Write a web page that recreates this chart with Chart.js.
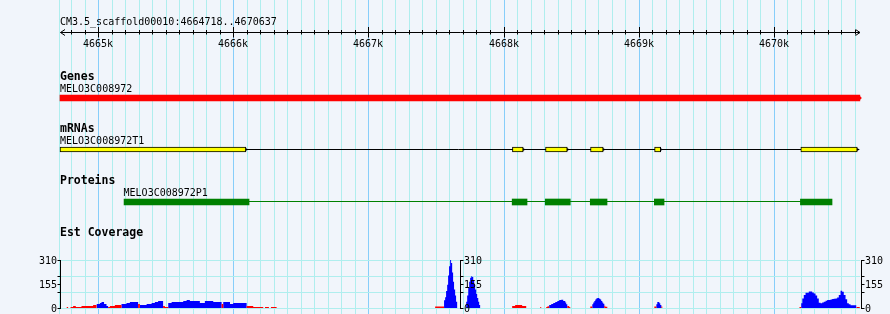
<!DOCTYPE html>
<html>
<head>
<meta charset="utf-8">
<title>MELO3C008972</title>
<script src="https://cdn.jsdelivr.net/npm/chart.js@4.4.1/dist/chart.umd.min.js"></script>
<style>
    html, body { margin: 0; padding: 0; background: #f1f5fb; }
    canvas { display: block; }
</style>
</head>
<body>
<canvas id="browser" width="890" height="314"></canvas>
<script>
const refName = 'CM3.5_scaffold00010';
const viewStart = 4664718;
const viewEnd = 4670637;

const rulerTicks = [4665000, 4666000, 4667000, 4668000, 4669000, 4670000];
const rulerLabels = ['4665k', '4666k', '4667k', '4668k', '4669k', '4670k'];

const trackTitles = ['Genes', 'mRNAs', 'Proteins', 'Est Coverage'];

const geneName = 'MELO3C008972';
const geneSpan = [4664718, 4670637];

const mrnaName = 'MELO3C008972T1';
const mrnaExons = [
    [4664718, 4666094], [4668066, 4668146], [4668311, 4668472],
    [4668644, 4668738], [4669118, 4669163], [4670200, 4670618]
];

const proteinName = 'MELO3C008972P1';
const proteinParts = [
    [4665192, 4666117], [4668064, 4668174], [4668309, 4668494],
    [4668642, 4668766], [4669116, 4669188], [4670197, 4670431]
];

const covTicks = [0, 155, 310];
const covTickLabels = ['0', '155', '310'];
const covMinorTicks = [103.3, 206.7];

// est coverage, [position, depth] steps
const estBlue = [
    [4664988, 26], [4665013, 32], [4665025, 38], [4665044, 26], [4665062, 13], [4665074, 0],
    [4665173, 26], [4665210, 32], [4665235, 38], [4665296, 0],
    [4665309, 19], [4665359, 26], [4665396, 32], [4665420, 38], [4665444, 45], [4665481, 0],
    [4665519, 32], [4665544, 38], [4665630, 45], [4665655, 51], [4665679, 45], [4665753, 32],
    [4665790, 45], [4665852, 38], [4665914, 0],
    [4665926, 38], [4665976, 26], [4666000, 32], [4666099, 0],
    [4667560, 50], [4667568, 70], [4667575, 110], [4667583, 150], [4667590, 210], [4667597, 270],
    [4667605, 310], [4667612, 290], [4667620, 230], [4667627, 170], [4667634, 120], [4667642, 80],
    [4667649, 40], [4667657, 0],
    [4667724, 40], [4667731, 80], [4667739, 130], [4667746, 170], [4667753, 195], [4667761, 205],
    [4667768, 200], [4667776, 180], [4667783, 150], [4667790, 120], [4667798, 90], [4667805, 65],
    [4667813, 40], [4667820, 20], [4667827, 0],
    [4668338, 20], [4668353, 26], [4668368, 32], [4668383, 38], [4668398, 45], [4668412, 51],
    [4668427, 53], [4668442, 45], [4668457, 35], [4668464, 25], [4668472, 0],
    [4668657, 25], [4668664, 35], [4668672, 45], [4668679, 55], [4668686, 62], [4668694, 64],
    [4668708, 60], [4668716, 55], [4668723, 45], [4668731, 35], [4668738, 28], [4668746, 0],
    [4669131, 25], [4669138, 38], [4669153, 30], [4669160, 20], [4669168, 0],
    [4670203, 30], [4670211, 62], [4670222, 84], [4670235, 98], [4670259, 107], [4670284, 100],
    [4670296, 94], [4670309, 80], [4670321, 62], [4670333, 34], [4670346, 30], [4670358, 36],
    [4670370, 41], [4670383, 47], [4670395, 51], [4670420, 55], [4670432, 58], [4670444, 60],
    [4670457, 62], [4670469, 68], [4670481, 84], [4670494, 111], [4670506, 105], [4670518, 84],
    [4670531, 56], [4670543, 30], [4670555, 24], [4670568, 17], [4670612, 0]
];

const estRed = [
    [4664766, 6], [4664778, 0], [4664796, 6], [4664815, 13], [4664835, 6], [4664877, 13],
    [4664963, 19], [4664988, 0],
    [4665074, 6], [4665087, 13], [4665124, 19], [4665173, 0],
    [4665296, 26], [4665309, 0],
    [4665481, 13], [4665494, 6], [4665519, 0],
    [4665914, 26], [4665926, 0],
    [4666099, 13], [4666148, 6], [4666222, 0], [4666235, 6], [4666264, 0], [4666279, 6], [4666321, 0],
    [4667494, 10], [4667560, 0],
    [4668064, 13], [4668086, 19], [4668138, 13], [4668168, 0],
    [4668272, 6], [4668279, 0],
    [4668316, 6], [4668323, 10], [4668331, 12], [4668338, 0],
    [4668472, 13], [4668486, 6], [4668494, 0],
    [4668642, 10], [4668657, 0],
    [4668746, 15], [4668753, 8], [4668768, 0],
    [4669116, 10], [4669131, 0],
    [4669168, 10], [4669175, 0],
    [4670190, 6], [4670203, 0],
    [4670612, 6], [4670637, 0]
];

const W = 890, H = 314;
const panelLeft = 60, panelRight = 860;
const rulerY = 32.5;
const geneRow = 98, mrnaRow = 149.5, proteinRow = 202, proteinLineRow = 201.5;
const titleY = [80, 132, 184, 236];
const nameY = [92, 144, 196];
const covTop = 260, covBottom = 308, covMax = 310;
const covAxisX = [60.5, 460.5, 861.5];

const smallFont = '10px "DejaVu Sans Mono"';
const boldFont = 'bold 11.5px "DejaVu Sans Mono"';
const gridMinor = '#afeeee';
const gridMajor = '#87cefa';

const bpPerPx = (viewEnd - viewStart + 1) / (panelRight - panelLeft);
const xMin = viewStart - panelLeft * bpPerPx;
const xMax = xMin + W * bpPerPx;
const covPerPx = covMax / (covBottom - covTop);
const covScaleMin = -(H - covBottom) * covPerPx;
const covScaleMax = covMax + covTop * covPerPx;

function line(ctx, x1, y1, x2, y2) {
    ctx.beginPath();
    ctx.moveTo(x1, y1);
    ctx.lineTo(x2, y2);
    ctx.stroke();
}

const browserPlugin = {
    id: 'browser',
    beforeDraw(chart) {
        const ctx = chart.ctx;
        ctx.save();
        ctx.fillStyle = '#f1f5fb';
        ctx.fillRect(0, 0, W, H);
        ctx.restore();
    },
    beforeDatasetsDraw(chart) {
        const ctx = chart.ctx;
        const xs = chart.scales.x;
        const cs = chart.scales.cov;
        ctx.save();
        ctx.lineWidth = 1;
        ctx.strokeStyle = gridMinor;
        line(ctx, panelLeft - 0.5, 0, panelLeft - 0.5, H);
        for (let bp = Math.ceil(viewStart / 100) * 100; bp <= viewEnd; bp += 100) {
            const x = Math.round(xs.getPixelForValue(bp)) + 0.5;
            ctx.strokeStyle = bp % 1000 === 0 ? gridMajor : gridMinor;
            line(ctx, x, 0, x, H);
        }
        ctx.strokeStyle = gridMinor;
        [0, ...covMinorTicks, covMax].forEach(v => {
            const y = Math.round(cs.getPixelForValue(v)) + 0.5;
            line(ctx, panelLeft, y, panelRight, y);
        });
        ctx.restore();
    },
    afterDatasetsDraw(chart) {
        const ctx = chart.ctx;
        const xs = chart.scales.x;
        const cs = chart.scales.cov;
        ctx.save();
        ctx.lineWidth = 1;
        ctx.strokeStyle = '#000';
        ctx.fillStyle = '#000';

        // ruler
        ctx.font = smallFont;
        ctx.textAlign = 'left';
        ctx.fillText(refName + ':' + viewStart + '..' + viewEnd, panelLeft, 25);
        line(ctx, panelLeft + 0.5, rulerY, panelRight, rulerY);
        ctx.beginPath();
        ctx.moveTo(panelLeft + 5, rulerY - 3);
        ctx.lineTo(panelLeft + 0.5, rulerY);
        ctx.lineTo(panelLeft + 5, rulerY + 3);
        ctx.moveTo(panelRight - 4.5, rulerY - 3);
        ctx.lineTo(panelRight, rulerY);
        ctx.lineTo(panelRight - 4.5, rulerY + 3);
        ctx.stroke();
        for (let bp = Math.ceil(viewStart / 100) * 100; bp <= viewEnd; bp += 100) {
            const x = Math.round(xs.getPixelForValue(bp)) + 0.5;
            if (bp % 1000 === 0) {
                line(ctx, x, rulerY - 5.5, x, rulerY + 5);
            } else {
                line(ctx, x, rulerY - 2.5, x, rulerY + 2);
            }
        }
        ctx.textAlign = 'center';
        rulerTicks.forEach((bp, i) => {
            ctx.fillText(rulerLabels[i], Math.round(xs.getPixelForValue(bp)), 47);
        });

        // track titles and feature names
        ctx.textAlign = 'left';
        ctx.font = boldFont;
        trackTitles.forEach((t, i) => ctx.fillText(t, panelLeft, titleY[i]));
        ctx.font = smallFont;
        ctx.fillText(geneName, xs.getPixelForValue(geneSpan[0]), nameY[0]);
        ctx.fillText(mrnaName, xs.getPixelForValue(mrnaExons[0][0]), nameY[1]);
        ctx.fillText(proteinName, xs.getPixelForValue(proteinParts[0][0]) - 0.5, nameY[2]);

        // strand tips
        const ge = xs.getPixelForValue(geneSpan[1]);
        ctx.fillStyle = '#ff0000';
        ctx.beginPath();
        ctx.moveTo(ge - 1, geneRow - 3);
        ctx.lineTo(ge + 2, geneRow);
        ctx.lineTo(ge - 1, geneRow + 3);
        ctx.fill();
        ctx.fillStyle = '#000';
        mrnaExons.forEach(e => {
            const xe = xs.getPixelForValue(e[1]);
            ctx.beginPath();
            ctx.moveTo(xe - 0.5, mrnaRow - 1.5);
            ctx.lineTo(xe + 2.5, mrnaRow);
            ctx.lineTo(xe - 0.5, mrnaRow + 1.5);
            ctx.fill();
        });

        // coverage axes
        const ticks = [...covTicks, ...covMinorTicks];
        covAxisX.forEach((ax, i) => {
            const side = i === 0 ? -1 : 1;
            line(ctx, ax, cs.getPixelForValue(covMax), ax, cs.getPixelForValue(0) + 1);
            ticks.forEach(v => {
                const y = Math.round(cs.getPixelForValue(v)) + 0.5;
                line(ctx, ax, y, ax + side * 3, y);
            });
            ctx.textAlign = side < 0 ? 'right' : 'left';
            covTicks.forEach((v, k) => {
                const y = Math.round(cs.getPixelForValue(v));
                ctx.fillText(covTickLabels[k], ax + side * 3.5, y + 4);
            });
        });
        ctx.restore();
    }
};

const ctx = document.getElementById('browser').getContext('2d');

const chart = new Chart(ctx, {
    type: 'bar',
    data: {
        datasets: [
            {
                type: 'bar',
                indexAxis: 'y',
                xAxisID: 'x',
                yAxisID: 'ty',
                data: [{x: geneSpan, y: geneRow}],
                backgroundColor: '#ff0000',
                borderWidth: 0,
                barThickness: 6,
                grouped: false,
                order: 1
            },
            {
                type: 'bar',
                indexAxis: 'y',
                xAxisID: 'x',
                yAxisID: 'ty',
                data: mrnaExons.map(e => ({x: e, y: mrnaRow})),
                backgroundColor: '#ffff00',
                borderColor: '#000',
                borderWidth: 1,
                borderSkipped: false,
                barThickness: 5,
                grouped: false,
                order: 1
            },
            {
                type: 'bar',
                indexAxis: 'y',
                xAxisID: 'x',
                yAxisID: 'ty',
                data: proteinParts.map(e => ({x: e, y: proteinRow})),
                backgroundColor: '#008000',
                borderWidth: 0,
                barThickness: 6,
                grouped: false,
                order: 1
            },
            {
                type: 'line',
                xAxisID: 'x',
                yAxisID: 'ty',
                data: [[mrnaExons[0][0], mrnaRow], [mrnaExons[mrnaExons.length - 1][1], mrnaRow]],
                borderColor: '#000',
                borderWidth: 1,
                pointRadius: 0,
                fill: false,
                order: 2
            },
            {
                type: 'line',
                xAxisID: 'x',
                yAxisID: 'ty',
                data: [[proteinParts[0][0], proteinLineRow], [proteinParts[proteinParts.length - 1][1], proteinLineRow]],
                borderColor: '#008000',
                borderWidth: 1,
                pointRadius: 0,
                fill: false,
                order: 2
            },
            {
                type: 'line',
                xAxisID: 'x',
                yAxisID: 'cov',
                data: estRed,
                stepped: true,
                fill: 'origin',
                backgroundColor: '#ff0000',
                borderColor: 'rgba(0,0,0,0)',
                borderWidth: 1,
                pointRadius: 0,
                order: 3
            },
            {
                type: 'line',
                xAxisID: 'x',
                yAxisID: 'cov',
                data: estBlue,
                stepped: true,
                fill: 'origin',
                backgroundColor: '#0000ff',
                borderColor: 'rgba(0,0,0,0)',
                borderWidth: 1,
                pointRadius: 0,
                order: 3
            }
        ]
    },
    options: {
        responsive: false,
        animation: false,
        devicePixelRatio: 1,
        events: [],
        layout: {padding: 0},
        plugins: {
            legend: {display: false},
            tooltip: {enabled: false}
        },
        scales: {
            x: {type: 'linear', min: xMin, max: xMax, offset: false, display: false},
            ty: {type: 'linear', axis: 'y', min: 0, max: H, reverse: true, offset: false, display: false},
            cov: {type: 'linear', axis: 'y', min: covScaleMin, max: covScaleMax, offset: false, display: false}
        }
    },
    plugins: [browserPlugin]
});
</script>
</body>
</html>
